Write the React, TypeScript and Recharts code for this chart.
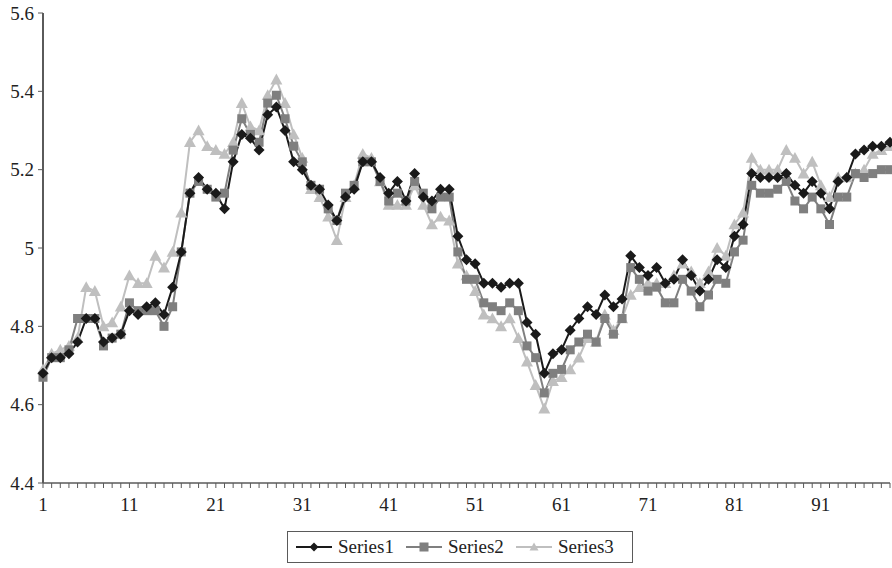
import { LineChart, Line, XAxis, YAxis, Legend } from "recharts";

const series1 = [
  4.68, 4.72, 4.72, 4.73, 4.76, 4.82, 4.82, 4.76, 4.77, 4.78,
  4.84, 4.83, 4.85, 4.86, 4.83, 4.9, 4.99, 5.14, 5.18, 5.15,
  5.14, 5.1, 5.22, 5.29, 5.28, 5.25, 5.34, 5.36, 5.3, 5.22,
  5.2, 5.16, 5.15, 5.11, 5.07, 5.13, 5.15, 5.22, 5.22, 5.18,
  5.14, 5.17, 5.12, 5.19, 5.13, 5.12, 5.15, 5.15, 5.03, 4.97,
  4.96, 4.91, 4.91, 4.9, 4.91, 4.91, 4.81, 4.78, 4.68, 4.73,
  4.74, 4.79, 4.82, 4.85, 4.83, 4.88, 4.85, 4.87, 4.98, 4.95,
  4.93, 4.95, 4.91, 4.92, 4.97, 4.93, 4.89, 4.92, 4.97, 4.95, 5.03, 5.06,
  5.19, 5.18, 5.18, 5.18, 5.19, 5.16, 5.14, 5.17, 5.14, 5.1,
  5.17, 5.18, 5.24, 5.25, 5.26, 5.26, 5.27,
];

const series2 = [
  4.67, 4.72, 4.72, 4.74, 4.82, 4.82, 4.82, 4.75, 4.77, 4.78,
  4.86, 4.84, 4.84, 4.84, 4.8, 4.85, 4.99, 5.14, 5.17, 5.15,
  5.13, 5.14, 5.25, 5.33, 5.29, 5.27, 5.37, 5.39, 5.33, 5.26,
  5.22, 5.16, 5.15, 5.1, 5.07, 5.14, 5.16, 5.22, 5.22, 5.17,
  5.12, 5.14, 5.12, 5.17, 5.14, 5.1, 5.13, 5.13, 4.99, 4.92,
  4.92, 4.86, 4.85, 4.84, 4.86, 4.84, 4.75, 4.72, 4.63, 4.68,
  4.69, 4.74, 4.76, 4.78, 4.76, 4.82, 4.78, 4.82, 4.95, 4.92,
  4.89, 4.9, 4.86, 4.86, 4.92, 4.89, 4.85, 4.88, 4.92, 4.91, 4.99, 5.02,
  5.16, 5.14, 5.14, 5.15, 5.17, 5.12, 5.1, 5.13, 5.1, 5.06,
  5.13, 5.13, 5.19, 5.18, 5.19, 5.2, 5.2,
];

const series3 = [
  4.69, 4.73, 4.74, 4.75, 4.77, 4.9, 4.89, 4.8, 4.81, 4.85,
  4.93, 4.91, 4.91, 4.98, 4.95, 4.99, 5.09, 5.27, 5.3, 5.26,
  5.25, 5.24, 5.27, 5.37, 5.31, 5.3, 5.39, 5.43, 5.37, 5.29,
  5.23, 5.15, 5.13, 5.08, 5.02, 5.13, 5.16, 5.24, 5.23, 5.17,
  5.11, 5.11, 5.11, 5.16, 5.11, 5.06, 5.08, 5.07, 4.96, 4.93,
  4.89, 4.83, 4.82, 4.8, 4.82, 4.77, 4.71, 4.65, 4.59, 4.66,
  4.67, 4.69, 4.72, 4.77, 4.76, 4.83, 4.79, 4.82, 4.88, 4.9,
  4.91, 4.91, 4.91, 4.93, 4.96, 4.94, 4.91, 4.94, 5.0, 4.98, 5.06, 5.09,
  5.23, 5.2, 5.2, 5.2, 5.25, 5.23, 5.19, 5.22, 5.16, 5.13,
  5.18, 5.18, 5.19, 5.2, 5.24, 5.25, 5.26,
];

const yTicks = [4.4, 4.6, 4.8, 5, 5.2, 5.4, 5.6];
const yTickLabels = ["4.4", "4.6", "4.8", "5", "5.2", "5.4", "5.6"];
const xLabelEvery = 10;

const categories = series1.map((_, i) => i + 1);
const data = categories.map((x, i) => ({
  x,
  s1: series1[i],
  s2: series2[i],
  s3: series3[i],
}));

const FONT = "'Liberation Serif', 'DejaVu Serif', serif";
const AXIS = "#5a5a5a";
const C1 = "#1a1a1a";
const C2 = "#7f7f7f";
const C3 = "#bfbfbf";

const Diamond = ({ cx, cy, fill, s = 5.5 }: any) =>
  cx == null ? null : (
    <path d={`M${cx},${cy - s}L${cx + s},${cy}L${cx},${cy + s}L${cx - s},${cy}Z`} fill={fill} />
  );
const Square = ({ cx, cy, fill, s = 4.5 }: any) =>
  cx == null ? null : <rect x={cx - s} y={cy - s} width={s * 2} height={s * 2} fill={fill} />;
const Triangle = ({ cx, cy, fill, s = 6 }: any) =>
  cx == null ? null : (
    <path d={`M${cx},${cy - s}L${cx + s},${cy + s * 0.8}L${cx - s},${cy + s * 0.8}Z`} fill={fill} />
  );

const XTick = ({ x, y, payload }: any) => {
  const show = (payload.value - 1) % xLabelEvery === 0;
  return (
    <g>
      <line x1={x} x2={x} y1={y} y2={y + 5} stroke={AXIS} strokeWidth={1} />
      {show && (
        <text x={x} y={y + 28} textAnchor="middle" fontFamily={FONT} fontSize={19} fill="#222">
          {payload.value}
        </text>
      )}
    </g>
  );
};

const legendItems = [
  { name: "Series1", color: C1, Marker: Diamond },
  { name: "Series2", color: C2, Marker: Square },
  { name: "Series3", color: C3, Marker: Triangle },
];

const renderLegend = () => (
  <div
    style={{
      boxSizing: "border-box",
      height: 32,
      width: 346,
      border: `1px solid ${AXIS}`,
      display: "flex",
      alignItems: "center",
      paddingLeft: 8,
      fontFamily: FONT,
      fontSize: 19,
      color: "#222",
      background: "#fff",
    }}
  >
    {legendItems.map(({ name, color, Marker }) => (
      <div key={name} style={{ display: "flex", alignItems: "center", marginRight: 12 }}>
        <svg width={36} height={14} style={{ marginRight: 6 }}>
          <line x1={0} x2={36} y1={7} y2={7} stroke={color} strokeWidth={2} />
          <Marker cx={18} cy={7} fill={color} s={4.5} />
        </svg>
        <span>{name}</span>
      </div>
    ))}
  </div>
);

export default function App() {
  return (
    <div style={{ position: "absolute", left: 0, top: 0, width: 892, height: 568, background: "#fff" }}>
      <LineChart width={892} height={568} data={data} margin={{ top: 13, right: 2, left: 0, bottom: 5 }}>
        <XAxis
          dataKey="x"
          type="number"
          domain={[1, categories.length]}
          ticks={categories}
          interval={0}
          tickSize={0}
          tickMargin={0}
          tick={<XTick />}
          height={48}
          axisLine={{ stroke: AXIS, strokeWidth: 1.5 }}
          tickLine={false}
        />
        <YAxis
          domain={[4.4, 5.6]}
          ticks={yTicks}
          interval={0}
          width={43}
          tickSize={5}
          tickMargin={4}
          tickFormatter={(v: number) => yTickLabels[yTicks.indexOf(v)] ?? String(v)}
          tick={{ fontFamily: FONT, fontSize: 19, fill: "#222" }}
          axisLine={{ stroke: AXIS, strokeWidth: 2 }}
          tickLine={{ stroke: AXIS }}
        />
        <Legend
          verticalAlign="bottom"
          content={renderLegend}
          wrapperStyle={{ left: 287, width: 346, height: 32 }}
        />
        <Line
          dataKey="s3"
          stroke={C3}
          strokeWidth={2}
          dot={<Triangle fill={C3} />}
          isAnimationActive={false}
        />
        <Line
          dataKey="s2"
          stroke={C2}
          strokeWidth={2}
          dot={<Square fill={C2} />}
          isAnimationActive={false}
        />
        <Line
          dataKey="s1"
          stroke={C1}
          strokeWidth={2}
          dot={<Diamond fill={C1} />}
          isAnimationActive={false}
        />
      </LineChart>
    </div>
  );
}
